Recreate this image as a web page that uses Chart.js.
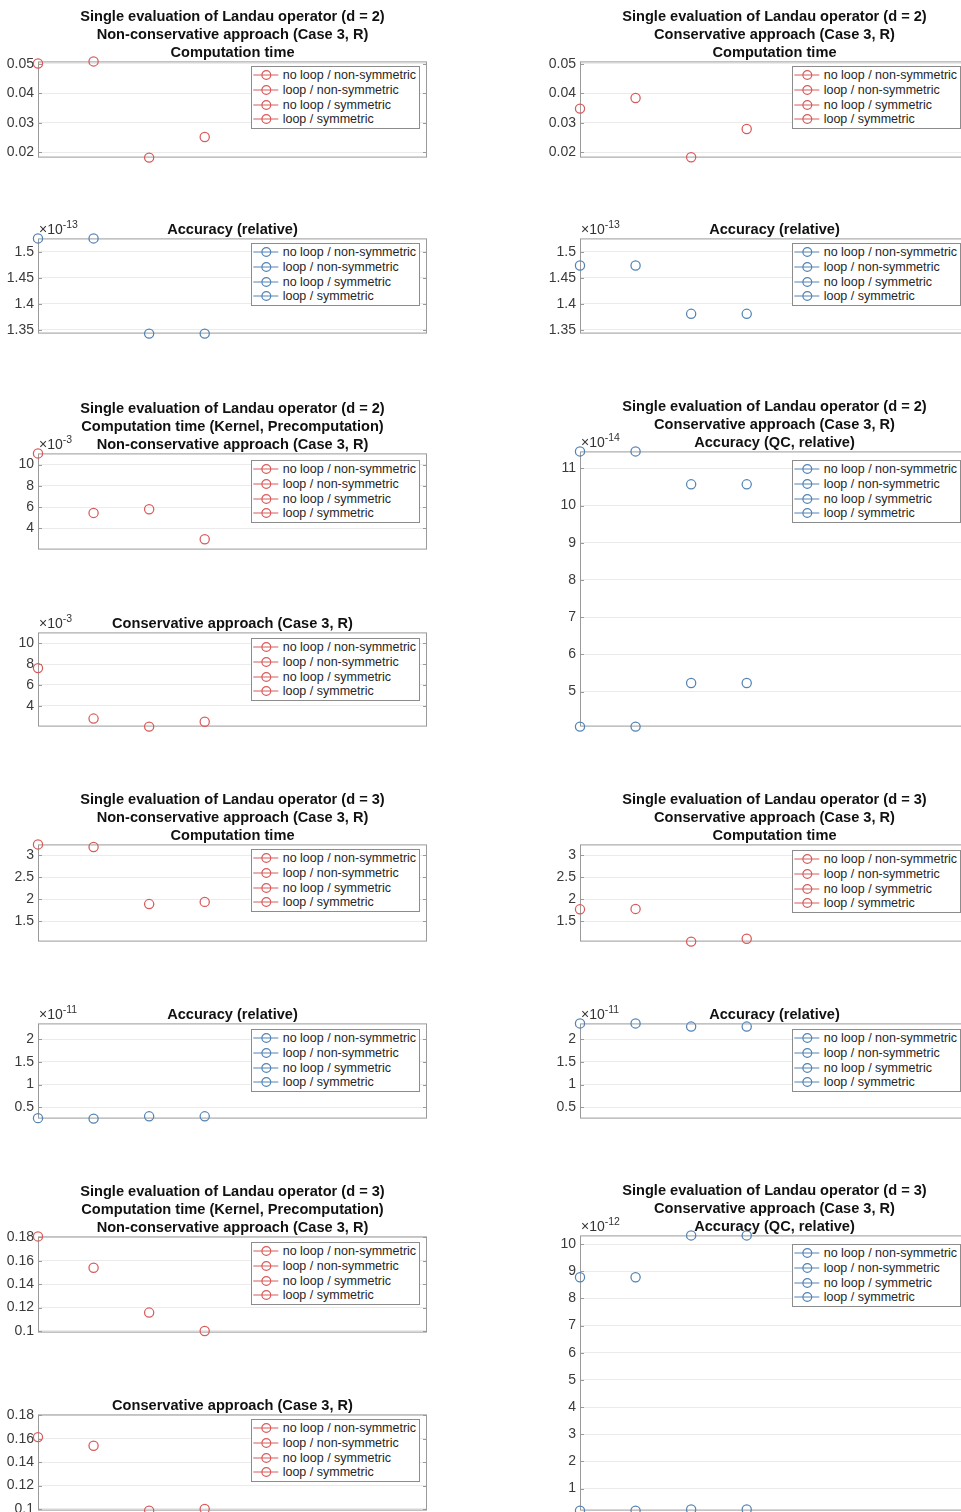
<!DOCTYPE html>
<html>
<head>
<meta charset="utf-8">
<script src="https://cdn.jsdelivr.net/npm/chart.js@4/dist/chart.umd.min.js"></script>
<style>
body { margin:0; width:961px; height:1512px; overflow:hidden; background:#fff; position:relative; font-family:"Liberation Sans", Arial, sans-serif; }
canvas { position:absolute; }
.title { position:absolute; width:520px; text-align:center; font-weight:bold; font-size:14.6px; line-height:18px; color:#111; white-space:nowrap; }
.expo { position:absolute; font-size:14px; line-height:16px; color:#333; white-space:nowrap; }
.expo sup { font-size:10.5px; vertical-align:6px; line-height:0; }
.legend { position:absolute; width:167px; height:60px; padding-top:0.6px; border:1px solid #8c8c8c; background:#fff; }
.legend div { height:14.8px; font-size:12.5px; color:#262626; white-space:nowrap; display:flex; align-items:center; }
.legend svg { width:31px; height:12px; flex:none; }
</style>
</head>
<body>
<script>
// categories
const seriesLabels = ["no loop / non-symmetric", "loop / non-symmetric", "no loop / symmetric", "loop / symmetric"];
const xPositions = [1, 2, 3, 4];

// d = 2
const d2TimeNonCons = [0.0501, 0.0508, 0.0182, 0.0252];
const d2TimeCons = [0.0348, 0.0384, 0.0183, 0.0279];
const d2AccNonCons = [1.526e-13, 1.526e-13, 1.343e-13, 1.343e-13];
const d2AccCons = [1.474e-13, 1.474e-13, 1.381e-13, 1.381e-13];
const d2KernelNonCons = [11.05e-3, 5.45e-3, 5.8e-3, 2.97e-3];
const d2KernelCons = [7.62e-3, 2.77e-3, 2.0e-3, 2.47e-3];
const d2QcAccHigh = [11.455e-14, 11.455e-14, 10.57e-14, 10.57e-14];
const d2QcAccLow = [4.06e-14, 4.06e-14, 5.23e-14, 5.23e-14];

// d = 3
const d3TimeNonCons = [3.25, 3.19, 1.89, 1.94];
const d3TimeCons = [1.77, 1.78, 1.035, 1.10];
const d3AccNonCons = [0.26e-11, 0.25e-11, 0.30e-11, 0.30e-11];
const d3AccCons = [2.35e-11, 2.35e-11, 2.28e-11, 2.28e-11];
const d3KernelNonCons = [0.1808, 0.154, 0.1157, 0.100];
const d3KernelCons = [0.1614, 0.154, 0.0986, 0.100];
const d3QcAccHigh = [8.78e-12, 8.78e-12, 10.32e-12, 10.32e-12];
const d3QcAccLow = [0.19e-12, 0.19e-12, 0.23e-12, 0.23e-12];

// tick labels
const d2TimeTicks = [0.02, 0.03, 0.04, 0.05];
const d2AccTicks = [1.35e-13, 1.4e-13, 1.45e-13, 1.5e-13];
const d2KernelTicks = [4e-3, 6e-3, 8e-3, 10e-3];
const d2QcTicks = [5e-14, 6e-14, 7e-14, 8e-14, 9e-14, 10e-14, 11e-14];
const d3TimeTicks = [1.5, 2, 2.5, 3];
const d3AccTicks = [0.5e-11, 1e-11, 1.5e-11, 2e-11];
const d3KernelTicks = [0.1, 0.12, 0.14, 0.16, 0.18];
const d3QcTicks = [1e-12, 2e-12, 3e-12, 4e-12, 5e-12, 6e-12, 7e-12, 8e-12, 9e-12, 10e-12];

const RED = "#d95a5a";
const BLUE = "#5283b5";
const FONT = "'Liberation Sans', Arial, sans-serif";

const T2 = "Single evaluation of Landau operator (d = 2)";
const T3 = "Single evaluation of Landau operator (d = 3)";
const NC = "Non-conservative approach (Case 3, R)";
const CO = "Conservative approach (Case 3, R)";
const CT = "Computation time";
const KP = "Computation time (Kernel, Precomputation)";
const AR = "Accuracy (relative)";
const AQ = "Accuracy (QC, relative)";

// linked y limits (shared by panels of one group)
const d2TimeGroup = [d2TimeNonCons, d2TimeCons];
const d2AccGroup = [d2AccNonCons, d2AccCons];
const d2KernelGroup = [d2KernelNonCons, d2KernelCons];
const d2QcGroup = [d2QcAccHigh, d2QcAccLow];
const d3TimeGroup = [d3TimeNonCons, d3TimeCons];
const d3AccGroup = [d3AccNonCons, d3AccCons];
const d3KernelGroup = [d3KernelNonCons, d3KernelCons];
const d3QcGroup = [d3QcAccHigh, d3QcAccLow];

const panels = [
  { col: 0, top: 61, bottom: 158, title: [T2, NC, CT], series: [d2TimeNonCons], group: d2TimeGroup, ticks: d2TimeTicks, color: RED, leg: 5 },
  { col: 0, top: 238, bottom: 334, title: [AR], series: [d2AccNonCons], group: d2AccGroup, ticks: d2AccTicks, color: BLUE, exp: -13, leg: 5 },
  { col: 1, top: 61, bottom: 158, title: [T2, CO, CT], series: [d2TimeCons], group: d2TimeGroup, ticks: d2TimeTicks, color: RED, leg: 5 },
  { col: 1, top: 238, bottom: 334, title: [AR], series: [d2AccCons], group: d2AccGroup, ticks: d2AccTicks, color: BLUE, exp: -13, leg: 5 },
  { col: 0, top: 453, bottom: 550, title: [T2, KP, NC], series: [d2KernelNonCons], group: d2KernelGroup, ticks: d2KernelTicks, color: RED, exp: -3, leg: 7 },
  { col: 0, top: 632, bottom: 727, title: [CO], series: [d2KernelCons], group: d2KernelGroup, ticks: d2KernelTicks, color: RED, exp: -3, leg: 6 },
  { col: 1, top: 451, bottom: 727, title: [T2, CO, AQ], series: [d2QcAccHigh, d2QcAccLow], group: d2QcGroup, ticks: d2QcTicks, color: BLUE, exp: -14, leg: 9 },
  { col: 0, top: 844, bottom: 942, title: [T3, NC, CT], series: [d3TimeNonCons], group: d3TimeGroup, ticks: d3TimeTicks, color: RED, leg: 5 },
  { col: 1, top: 844, bottom: 942, title: [T3, CO, CT], series: [d3TimeCons], group: d3TimeGroup, ticks: d3TimeTicks, color: RED, leg: 6 },
  { col: 0, top: 1023, bottom: 1119, title: [AR], series: [d3AccNonCons], group: d3AccGroup, ticks: d3AccTicks, color: BLUE, exp: -11, leg: 6 },
  { col: 1, top: 1023, bottom: 1119, title: [AR], series: [d3AccCons], group: d3AccGroup, ticks: d3AccTicks, color: BLUE, exp: -11, leg: 6 },
  { col: 0, top: 1236, bottom: 1333, title: [T3, KP, NC], series: [d3KernelNonCons], group: d3KernelGroup, ticks: d3KernelTicks, color: RED, leg: 6 },
  { col: 0, top: 1414, bottom: 1511, title: [CO], series: [d3KernelCons], group: d3KernelGroup, ticks: d3KernelTicks, color: RED, leg: 5 },
  { col: 1, top: 1235, bottom: 1511, title: [T3, CO, AQ], series: [d3QcAccHigh, d3QcAccLow], group: d3QcGroup, ticks: d3QcTicks, color: BLUE, exp: -12, leg: 9 }
];

// box around the axes with small inward ticks on both sides
const boxPlugin = {
  id: "box",
  beforeDatasetsDraw(chart) {
    const { ctx, chartArea: a } = chart;
    const y = chart.scales.y;
    ctx.save();
    ctx.strokeStyle = "#9a9a9a";
    ctx.lineWidth = 1;
    ctx.strokeRect(a.left + 0.5, a.top + 0.5, a.right - a.left - 1, a.bottom - a.top - 1);
    ctx.beginPath();
    y.ticks.forEach(t => {
      const py = Math.round(y.getPixelForValue(t.value)) + 0.5;
      ctx.moveTo(a.left, py); ctx.lineTo(a.left + 4, py);
      ctx.moveTo(a.right, py); ctx.lineTo(a.right - 4, py);
    });
    ctx.stroke();
    ctx.restore();
  }
};

function fmt(v) {
  return String(parseFloat(v.toPrecision(4)));
}

function addLegend(x, y, color) {
  const box = document.createElement("div");
  box.className = "legend";
  box.style.left = x + "px";
  box.style.top = y + "px";
  seriesLabels.forEach(lab => {
    const row = document.createElement("div");
    row.innerHTML = '<svg viewBox="0 0 31 12"><line x1="1.3" y1="6" x2="26.3" y2="6" stroke="' + color +
      '" stroke-width="1"/><circle cx="14.3" cy="6" r="4.4" fill="none" stroke="' + color + '" stroke-width="1.2"/></svg>';
    const span = document.createElement("span");
    span.textContent = lab;
    row.appendChild(span);
    box.appendChild(row);
  });
  document.body.appendChild(box);
}

function makePanel(p) {
  const colX = p.col ? 542 : 0;
  const boxLeft = colX + 38;
  const padT = 12, padB = 12, padR = 10;
  const h = p.bottom - p.top;
  const all = p.group.flat();
  const scale = p.exp ? Math.pow(10, p.exp) : 1;

  const cv = document.createElement("canvas");
  cv.width = 38 + 389 + padR;
  cv.height = h + padT + padB;
  cv.style.left = colX + "px";
  cv.style.top = (p.top - padT) + "px";
  document.body.appendChild(cv);

  const datasets = seriesLabels.map((lab, i) => ({
    label: lab,
    data: p.series.map(arr => ({ x: xPositions[i], y: arr[i] })),
    borderColor: p.color,
    backgroundColor: "rgba(0,0,0,0)",
    pointRadius: 4.6,
    pointHoverRadius: 4.6,
    pointBorderWidth: 1.25,
    showLine: false,
    clip: false
  }));

  new Chart(cv, {
    type: "scatter",
    data: { datasets },
    options: {
      responsive: false,
      animation: false,
      layout: { padding: { top: padT, bottom: padB, left: 0, right: padR }, autoPadding: false },
      plugins: { legend: { display: false }, tooltip: { enabled: false } },
      scales: {
        x: { type: "linear", min: 1, max: 8, display: false },
        y: {
          type: "linear",
          min: Math.min(...all),
          max: Math.max(...all),
          afterFit: s => { s.width = 38; },
          afterBuildTicks: s => { s.ticks = p.ticks.map(v => ({ value: v })); },
          ticks: { callback: v => fmt(v / scale), font: { family: FONT, size: 14 }, color: "#3a3a3a", padding: 4 },
          grid: { color: "#ebebeb", drawTicks: false },
          border: { display: false }
        }
      }
    },
    plugins: [boxPlugin]
  });

  const t = document.createElement("div");
  t.className = "title";
  t.style.left = (boxLeft + 194.5 - 260) + "px";
  t.style.top = (p.top - 18 * p.title.length) + "px";
  t.innerHTML = p.title.join("<br>");
  document.body.appendChild(t);

  if (p.exp) {
    const e = document.createElement("div");
    e.className = "expo";
    e.style.left = (boxLeft + 1) + "px";
    e.style.top = (p.top - 17) + "px";
    e.innerHTML = "\u00d710<sup>" + p.exp + "</sup>";
    document.body.appendChild(e);
  }

  addLegend(boxLeft + (p.col ? 211.7 : 212.7), p.top + p.leg, p.color);
}

panels.forEach(makePanel);
</script>
</body>
</html>
